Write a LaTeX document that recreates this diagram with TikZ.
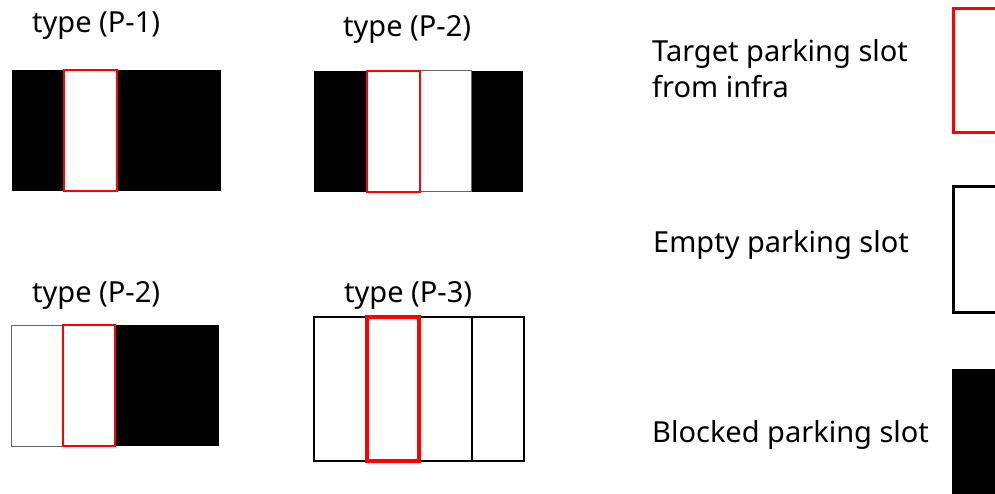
\documentclass[tikz,border=0pt]{standalone}
\usepackage{fontspec}
\setmainfont{Noto Sans}
\begin{document}
\begin{tikzpicture}[x=1pt,y=-1pt,
 slot/.style={rectangle, inner sep=0pt, outer sep=0pt, anchor=north west},
 blocked/.style={slot, fill=black},
 emptyslot/.style={slot, draw=black!60, line width=1pt, fill=white},
 emptythick/.style={slot, draw=black, line width=1.6pt, fill=white},
 target/.style={slot, draw=red, line width=2pt},
 targetthick/.style={slot, draw=red, line width=3.2pt},
 lbl/.style={font=\fontsize{29}{36}\selectfont, inner sep=0pt, anchor=base west, align=left}]
\useasboundingbox (0,0) rectangle (995,494);

% type (P-1)
\node[lbl] (t1) at (32,33) {type (P-1)};
\node[blocked, minimum width=52pt, minimum height=121pt] (a1) at (12,70) {};
\node[blocked, minimum width=104pt, minimum height=121pt] (a3) at (117,70) {};
\node[target, minimum width=53pt, minimum height=121pt] (a2) at (64,70) {};

% type (P-2) top
\node[lbl] (t2) at (343,37) {type (P-2)};
\node[blocked, minimum width=53pt, minimum height=121pt] (b1) at (314,71) {};
\node[blocked, minimum width=52pt, minimum height=121pt] (b4) at (471,71) {};
\node[emptyslot, minimum width=51pt, minimum height=121pt] (b3) at (420,71) {};
\node[target, minimum width=53pt, minimum height=121pt] (b2) at (367,71) {};

% type (P-2) bottom
\node[lbl] (t3) at (32,302) {type (P-2)};
\node[blocked, minimum width=104pt, minimum height=121pt] (c3) at (115,325) {};
\node[emptyslot, minimum width=52pt, minimum height=121pt] (c1) at (11,325) {};
\node[target, minimum width=52pt, minimum height=121pt] (c2) at (63,325) {};

% type (P-3)
\node[lbl] (t4) at (344,302) {type (P-3)};
\node[emptythick, minimum width=53pt, minimum height=144pt] (d1) at (314,317) {};
\node[emptythick, minimum width=53pt, minimum height=144pt] (d3) at (419,317) {};
\node[emptythick, minimum width=52pt, minimum height=144pt] (d4) at (472,317) {};
\node[targetthick, minimum width=52pt, minimum height=144pt] (d2) at (367,317) {};

% legend
\node[lbl] (l1) at (652,98) {Target parking slot\\from infra};
\node[slot, draw=red, line width=3pt, minimum width=70pt, minimum height=124pt] (k1) at (953,9) {};
\node[lbl] (l2) at (653,252) {Empty parking slot};
\node[slot, draw=black, line width=3pt, minimum width=70pt, minimum height=125pt] (k2) at (953,187) {};
\node[lbl] (l3) at (652,442) {Blocked parking slot};
\node[blocked, minimum width=70pt, minimum height=130pt] (k3) at (952,369) {};
\end{tikzpicture}
\end{document}
